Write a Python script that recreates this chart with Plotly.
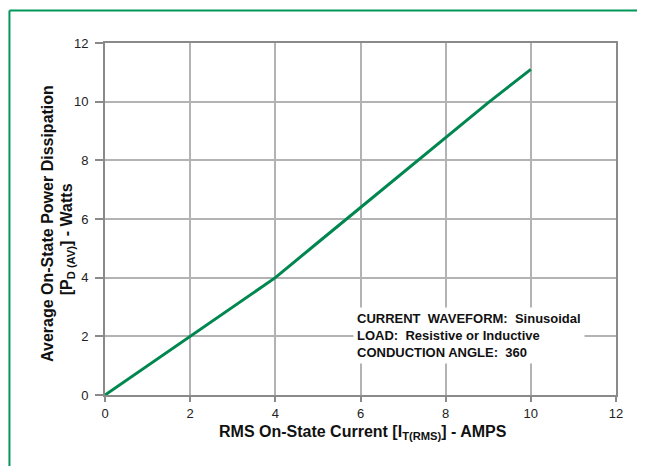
import plotly.graph_objects as go

# Data
current_a = [0, 1, 2, 3, 4, 5, 6, 7, 8, 9, 10]
power_w = [0, 1.0, 2.0, 3.0, 4.0, 5.2, 6.4, 7.6, 8.8, 9.97, 11.1]
tick_vals = [0, 2, 4, 6, 8, 10, 12]

GREEN = "#00874f"
FRAME_GREEN = "#00975a"
GRID = "#b3b3b3"
AXIS = "#8a8a8a"
FONT = "Liberation Sans"

fig = go.Figure()
fig.add_trace(go.Scatter(x=current_a, y=power_w, mode="lines",
                         line=dict(color=GREEN, width=3), showlegend=False,
                         hoverinfo="skip"))

axis_common = dict(range=[0, 12], tickvals=tick_vals, showgrid=True,
                   gridcolor=GRID, gridwidth=1.5, zeroline=False,
                   showline=True, linecolor=AXIS, linewidth=2, mirror=True,
                   ticks="outside", tickcolor=AXIS, tickwidth=1.5,
                   tickfont=dict(family=FONT, size=13, color="#222"))

fig.update_xaxes(**axis_common, ticklen=5)
fig.update_yaxes(**axis_common, ticklen=8, ticklabelstandoff=4)

fig.add_annotation(xref="paper", yref="paper", x=-0.1115, y=0.486, textangle=-90,
                   text="<b>Average On-State Power Dissipation</b>",
                   showarrow=False, xanchor="center", yanchor="middle",
                   font=dict(family=FONT, size=16, color="#111"))
fig.add_annotation(xref="paper", yref="paper", x=-0.0733, y=0.441, textangle=-90,
                   text="<b>[P<sub>D (AV)</sub>] - Watts</b>",
                   showarrow=False, xanchor="center", yanchor="middle",
                   font=dict(family=FONT, size=16, color="#111"))
fig.add_annotation(xref="paper", yref="paper", x=0.5057, y=-0.1056,
                   text="<b>RMS On-State Current [I<sub>T(RMS)</sub>] - AMPS</b>",
                   showarrow=False, xanchor="center", yanchor="middle",
                   font=dict(family=FONT, size=16, color="#111"))

fig.add_annotation(x=5.82, y=2.04, xref="x", yref="y",
                   text="<b>CURRENT  WAVEFORM:  Sinusoidal<br>LOAD:  Resistive or Inductive<br>CONDUCTION ANGLE:  360</b>",
                   showarrow=False, align="left", xanchor="left", yanchor="middle",
                   bgcolor="white", borderpad=3,
                   font=dict(family=FONT, size=13, color="#111"))

# Green frame (top and left edges)
fig.add_shape(type="line", xref="paper", yref="paper", x0=-0.187, x1=1.1,
              y0=1.092, y1=1.092, line=dict(color=FRAME_GREEN, width=2))
fig.add_shape(type="line", xref="paper", yref="paper", x0=-0.187, x1=-0.187,
              y0=1.092, y1=-0.3, line=dict(color=FRAME_GREEN, width=2))

# the page places the figure 8px from the window's top-left corner
fig.update_layout(width=645, height=466,
                  margin=dict(l=96.5, r=37.3, t=35, b=78.7),
                  paper_bgcolor="white", plot_bgcolor="white",
                  font=dict(family=FONT))

fig.write_html("out.html")
